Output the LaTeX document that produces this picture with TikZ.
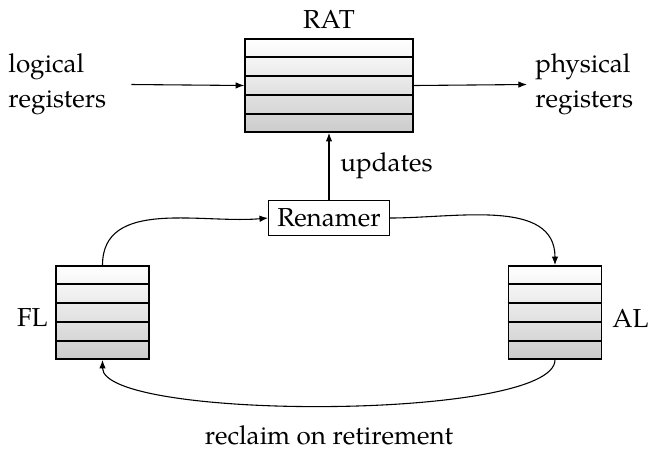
\documentclass[tikz,border=0pt]{standalone}
\usepackage{fontspec}
\setmainfont{TeX Gyre Pagella}
\usetikzlibrary{arrows.meta,calc}
\tikzset{
  stack/.style={draw, line width=0.7pt, top color=white, bottom color=black!20, inner sep=0pt},
  lbl/.style={inner sep=0pt, font=\fontsize{12}{14.3}\selectfont},
  conn/.style={line width=0.5pt, -{Latex[length=4pt,width=3pt]}},
  plainbox/.style={draw, line width=0.5pt, fill=white, inner xsep=4pt, inner ysep=4pt, font=\fontsize{12}{14.3}\selectfont}
}
\begin{document}
\begin{tikzpicture}[x=0.461pt,y=-0.461pt]
\useasboundingbox (0,0) rectangle (653,449);
% stacks
\node[stack, minimum width=77.4pt, minimum height=42.9pt] (rat) at (329,85.5) {};
\node[stack, minimum width=42.9pt, minimum height=42.9pt] (fl) at (102.5,312.5) {};
\node[stack, minimum width=42.9pt, minimum height=42.9pt] (al) at (555,312.5) {};
\foreach \n in {rat,fl,al}{
  \foreach \i in {1,...,4}{
    \draw[line width=0.6pt] ($(\n.north west)!\i/5!(\n.south west)$) -- ($(\n.north east)!\i/5!(\n.south east)$);
  }
}
% labels
\node[lbl] (ratl) at (329,19) {RAT};
\node[lbl, anchor=east] (fll) at (48,318) {FL};
\node[lbl, anchor=west] (all) at (612,318) {AL};
\node[lbl, align=left, anchor=west] (log) at (8,84.5) {logical\\[2pt]registers};
\node[lbl, align=left, anchor=west] (phy) at (535,84.5) {physical\\[2pt]registers};
\node[plainbox] (ren) at (329,218) {Renamer};
\node[lbl, anchor=west] (upd) at (340,166) {updates};
\node[lbl] (rec) at (329,435) {reclaim on retirement};
% connectors
\coordinate (logend) at ($(log.east)+(25,0)$);
\coordinate (phyend) at ($(phy.west)+(-8,0)$);
\draw[conn] (logend) -- (rat.west);
\draw[conn] (rat.east) -- (phyend);
\draw[conn] (ren.north) -- (rat.south);
\draw[conn] (fl.north) to[out=90,in=185] (ren.west);
\draw[conn] (ren.east) to[out=0,in=90] (al.north);
\draw[conn] (al.south) .. controls +(0,61) and +(0,61) .. (fl.south);
\end{tikzpicture}
\end{document}
